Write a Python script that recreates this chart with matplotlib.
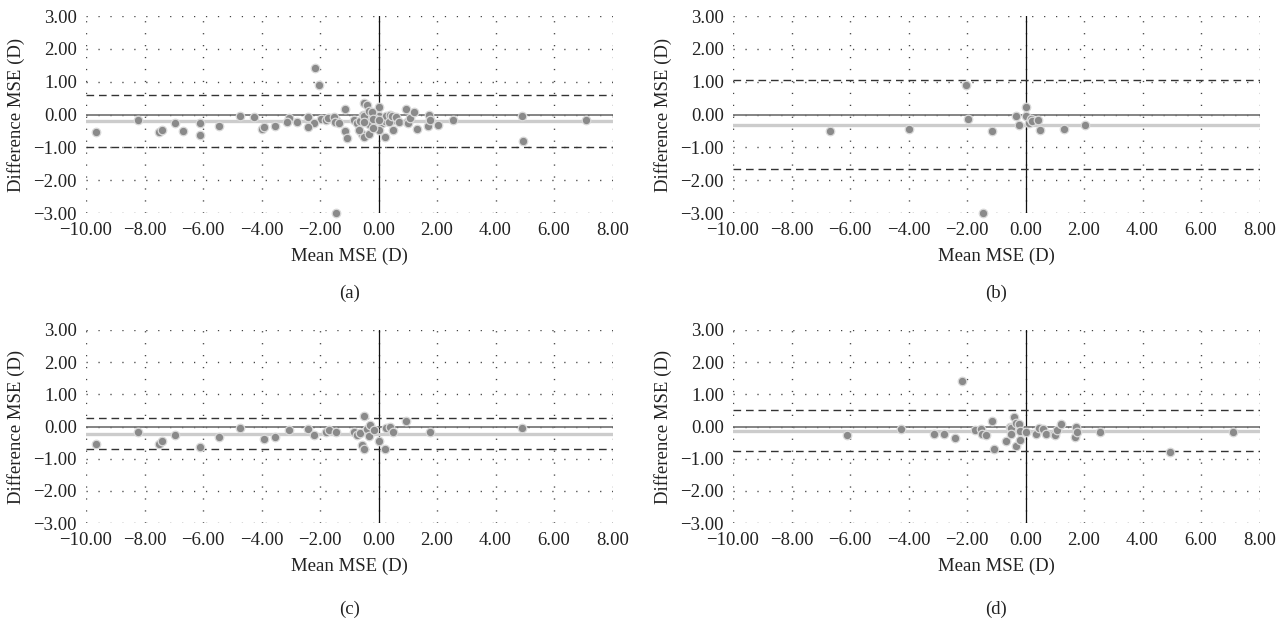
import numpy as np
import matplotlib
matplotlib.use("Agg")
import matplotlib.pyplot as plt

# ---------------- data ----------------
# panel (b)
b_mean = [-6.67, -3.99, -2.03, -1.97, -1.45, -1.14, -0.34, -0.23, 0.00, 0.03, 0.11, 0.19, 0.22, 0.43, 0.49, 1.31, 2.05]
b_diff = [-0.51, -0.43, 0.91, -0.13, -3.00, -0.51, -0.04, -0.31, 0.23, -0.04, -0.26, -0.13, -0.20, -0.17, -0.47, -0.43, -0.31]

# panel (c)
c_mean = [-9.66, -8.21, -7.52, -7.40, -6.95, -6.09, -5.44, -4.73, -3.91, -3.53, -3.05, -2.40, -2.20,
          -1.78, -1.69, -1.44, -0.83, -0.74, -0.63, -0.57, -0.51, -0.49, -0.41, -0.34, -0.30, -0.17,
          0.00, 0.23, 0.25, 0.40, 0.48, 0.93, 1.77, 4.90]
c_diff = [-0.54, -0.16, -0.54, -0.46, -0.25, -0.63, -0.34, -0.04, -0.38, -0.34, -0.11, -0.08, -0.25,
          -0.16, -0.10, -0.16, -0.16, -0.25, -0.21, -0.58, -0.70, 0.34, -0.08, -0.29, 0.04, -0.11,
          -0.46, -0.70, -0.04, 0.00, -0.16, 0.17, -0.16, -0.04]

# panel (d)
d_mean = [-6.11, -4.26, -3.14, -2.77, -2.40, -2.17, -1.74, -1.52, -1.48, -1.34, -1.14, -1.06, -0.65,
          -0.54, -0.49, -0.48, -0.38, -0.32, -0.32, -0.21, -0.19, -0.19, 0.00, 0.37, 0.46, 0.59, 0.71,
          0.97, 1.00, 1.08, 1.22, 1.68, 1.71, 1.77, 2.55, 4.94, 7.08]
d_diff = [-0.26, -0.08, -0.22, -0.22, -0.37, 1.43, -0.11, -0.08, -0.22, -0.26, 0.17, -0.71, -0.46,
          0.00, -0.05, -0.22, 0.30, 0.10, -0.60, 0.09, -0.13, -0.41, -0.17, -0.22, -0.05, -0.08, -0.22,
          -0.22, -0.26, -0.11, 0.09, -0.34, 0.00, -0.16, -0.16, -0.80, -0.17]

# panel (a): all observations
a_mean = b_mean + c_mean + d_mean
a_diff = b_diff + c_diff + d_diff

# bias and limits of agreement
bias = {"a": -0.20, "b": -0.31, "c": -0.23, "d": -0.14}
upper = {"a": 0.58, "b": 1.04, "c": 0.25, "d": 0.50}
lower = {"a": -0.99, "b": -1.67, "c": -0.71, "d": -0.77}

panel_labels = ["(a)", "(b)", "(c)", "(d)"]
x_ticks = [-10, -8, -6, -4, -2, 0, 2, 4, 6, 8]
y_ticks = [-3, -2, -1, 0, 1, 2, 3]

# ---------------- plot ----------------
plt.rcParams["font.family"] = ["Liberation Serif", "DejaVu Serif"]
plt.rcParams["axes.unicode_minus"] = True

fig = plt.figure(figsize=(12.87, 6.19), dpi=100)
W, H = 1287, 619
# axes in pixel coords: left, right, top, bottom
boxes = {
    "a": (86, 612.5, 16, 213),
    "b": (733, 1259.5, 16, 213),
    "c": (86, 612.5, 330, 523),
    "d": (733, 1259.5, 330, 523),
}
data = {"a": (a_mean, a_diff), "b": (b_mean, b_diff), "c": (c_mean, c_diff), "d": (d_mean, d_diff)}


def fmt(v, pos):
    return ("%.2f" % v).replace("-", "\u2212")


grid_col = "#444444"
txt_col = "#222222"
for key, lab in zip(["a", "b", "c", "d"], panel_labels):
    l, r, t, bt = boxes[key]
    ax = fig.add_axes([l / W, 1 - bt / H, (r - l) / W, (bt - t) / H])
    ax.set_xlim(-10, 8)
    ax.set_ylim(-3, 3)
    for s in ax.spines.values():
        s.set_visible(False)
    ax.set_xticks(x_ticks)
    ax.set_yticks(y_ticks)
    ax.xaxis.set_major_formatter(matplotlib.ticker.FuncFormatter(fmt))
    ax.yaxis.set_major_formatter(matplotlib.ticker.FuncFormatter(fmt))
    ax.tick_params(axis="x", length=0, labelsize=13.5, pad=6.5, colors=txt_col)
    ax.tick_params(axis="y", length=0, labelsize=13.5, pad=6.5, colors=txt_col)
    # dotted grid
    for xv in x_ticks:
        ax.axvline(xv, color=grid_col, lw=1.0, linestyle=(0, (0.9, 7.7)), zorder=1)
    for yv in y_ticks:
        ax.axhline(yv, color=grid_col, lw=1.0, linestyle=(0, (0.9, 7.7)), zorder=1)
    # reference lines
    ax.axvline(0, color="#111111", lw=0.9, zorder=2)
    ax.axhline(bias[key], color="#cccccc", lw=2.4, zorder=2)
    ax.axhline(0, color="#707070", lw=1.2, zorder=3)
    ax.axhline(upper[key], color="#333333", lw=1.0, linestyle=(0, (5.5, 3.5)), zorder=3)
    ax.axhline(lower[key], color="#333333", lw=1.0, linestyle=(0, (5.5, 3.5)), zorder=3)
    xs, ys = data[key]
    ax.scatter(xs, ys, s=38, color="#8a8a8a", edgecolors="#dadada", linewidths=0.9, zorder=5, clip_on=False)
    ax.set_xlabel("Mean MSE (D)", fontsize=13.5, labelpad=6, color=txt_col)
    ax.set_ylabel("Difference MSE (D)", fontsize=13.5, labelpad=6, color=txt_col)
    ty = 293 if key in ("a", "b") else 609
    fig.text((l + r) / 2 / W, 1 - ty / H, lab, ha="center", va="center", fontsize=13.5, color=txt_col)

fig.savefig("out.png", dpi=100)
